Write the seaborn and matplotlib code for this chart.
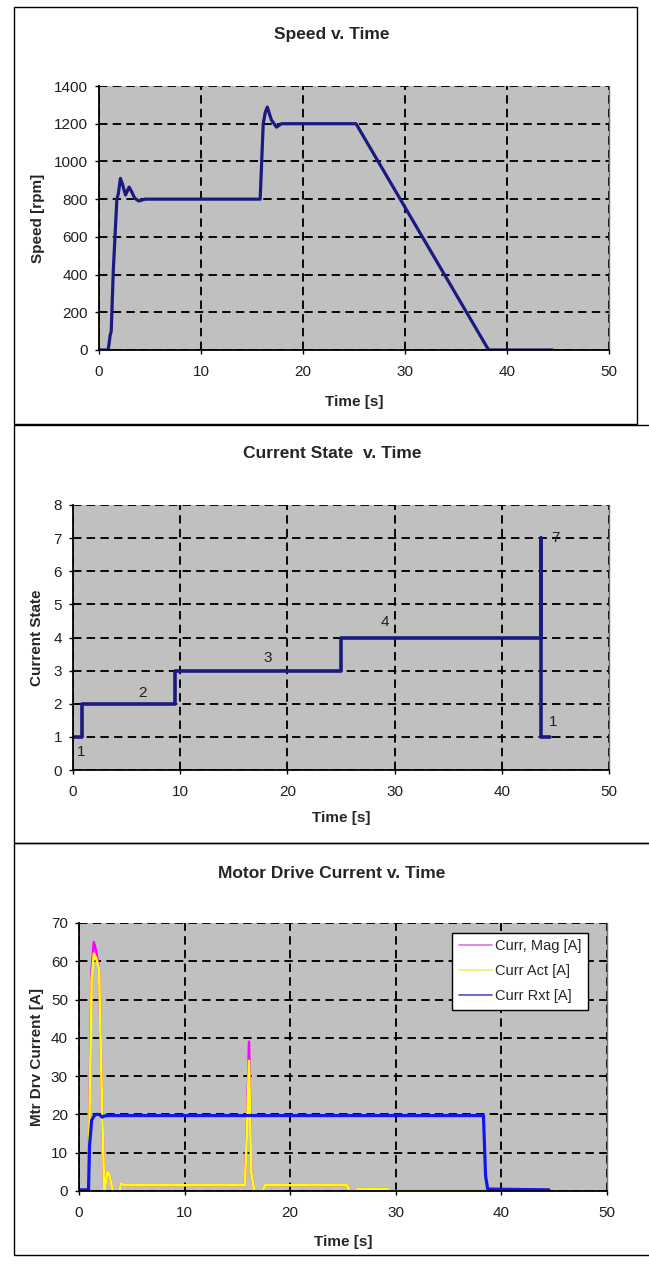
import matplotlib
matplotlib.use("Agg")
import matplotlib.pyplot as plt
import seaborn as sns
import pandas as pd
from matplotlib.patches import Rectangle
from matplotlib.lines import Line2D

# ---- values ----
speed_time = [0, 0.9, 1.1, 1.2, 1.4, 1.75, 1.9, 2.1, 2.3, 2.6, 2.95, 3.2, 3.5, 3.9, 4.5,
              15.8, 16.1, 16.3, 16.5, 16.9, 17.4, 17.9, 25.2, 38.2, 44.5]
speed_rpm = [0, 0, 80, 100, 420, 800, 830, 910, 880, 822, 864, 840, 805, 790, 800,
             800, 1200, 1260, 1288, 1220, 1182, 1200, 1200, 0, 0]

state_time = [0, 0.8, 0.8, 9.5, 9.5, 25.0, 25.0, 43.7, 43.7, 43.7, 44.5]
state_value = [1, 1, 2, 2, 3, 3, 4, 4, 7, 1, 1]
state_labels = ["1", "2", "3", "4", "7", "1"]
state_label_t = [0.75, 6.5, 18.2, 29.1, 45.0, 44.8]
state_label_y = [0.55, 2.33, 3.38, 4.48, 7.0, 1.45]

cur_time = [0, 0.9, 1.0, 1.2, 1.4, 1.6, 1.9, 2.2, 2.4, 2.7, 2.9, 3.2, 3.8, 4.0, 4.3,
            15.7, 15.9, 16.1, 16.3, 16.6, 17.4, 17.6, 25.4, 25.6, 26.2, 26.4, 29.2, 29.4,
            38.3, 38.5, 38.7, 44.5]
cur_mag = [0, 0, 22, 58, 65, 63, 58, 20, 0, 5, 4, 0, 0, 2, 1.5,
           1.5, 16, 39, 5, 0, 0, 1.5, 1.5, 0, 0, 0.5, 0.5, 0,
           0, 0, 0, 0]
cur_act = [0, 0, 20, 55, 62, 61, 58, 20, 0, 5, 4, 0, 0, 2, 1.5,
           1.5, 15, 34, 5, 0, 0, 1.5, 1.5, 0, 0, 0.5, 0.5, 0,
           0, 0, 0, 0]
cur_rxt = [0.3, 0.3, 12, 18.5, 19.5, 20, 20, 19.3, 19.6, 19.7, 19.7, 19.7, 19.7, 19.7, 19.7,
           19.7, 19.7, 19.7, 19.7, 19.7, 19.7, 19.7, 19.7, 19.7, 19.7, 19.7, 19.7, 19.7,
           19.7, 4, 0.5, 0.3]
cur_series = ["Curr, Mag [A]", "Curr Act [A]", "Curr Rxt [A]"]
cur_colors = ["#ff00ff", "#ffff00", "#1414f0"]

x_ticks = [0, 10, 20, 30, 40, 50]

sns.set_style("white")
plt.rcParams['font.family'] = ['Liberation Sans', 'DejaVu Sans']

W, H = 649, 1264
fig = plt.figure(figsize=(W / 100, H / 100), dpi=100)


def add_axes_px(left, top, right, bottom):
    return fig.add_axes([left / W, 1 - bottom / H, (right - left) / W, (bottom - top) / H])


def style_axes(ax, ylim, yticks, ylabel, ylabel_x, xlabel_y):
    ax.set_facecolor("#c0c0c0")
    ax.set_xlim(0, 50)
    ax.set_ylim(*ylim)
    ax.set_xticks(x_ticks)
    ax.set_yticks(yticks)
    ax.grid(True, color="black", linestyle=(0, (4.5, 2.8)), linewidth=1.35)
    ax.set_axisbelow(True)
    ax.spines["top"].set_visible(False)
    ax.spines["right"].set_color("#707070")
    ax.spines["right"].set_linewidth(1.0)
    for side in ["left", "bottom"]:
        ax.spines[side].set_color("black")
        ax.spines[side].set_linewidth(1.3)
    ax.tick_params(axis="both", direction="out", length=3, width=1, color="black",
                   labelsize=11, labelcolor="#202020", left=True, bottom=True)
    ax.tick_params(axis="x", pad=8)
    ax.tick_params(axis="y", pad=5)
    ax.set_xlabel("Time [s]", fontsize=11, fontweight="bold")
    ax.set_ylabel(ylabel, fontsize=11, fontweight="bold")
    ax.xaxis.set_label_coords(0.5, xlabel_y)
    ax.xaxis.label.set_va("center")
    ax.yaxis.set_label_coords(ylabel_x, 0.5)
    ax.yaxis.label.set_va("center")


# panel frames
fig.add_artist(Rectangle((14 / W, 1 - 424 / H), 623 / W, 417 / H, transform=fig.transFigure,
                         fill=False, ec="black", lw=1))
fig.add_artist(Rectangle((14 / W, 1 - 843 / H), 660 / W, 418 / H, transform=fig.transFigure,
                         fill=False, ec="black", lw=1))
fig.add_artist(Rectangle((14 / W, 1 - 1255 / H), 660 / W, 412 / H, transform=fig.transFigure,
                         fill=False, ec="black", lw=1))

# Speed v. Time
ax1 = add_axes_px(99, 86, 609, 350)
sns.lineplot(x=speed_time, y=speed_rpm, ax=ax1, color="#1a1a80", linewidth=2.3,
             estimator=None, sort=False)
style_axes(ax1, (0, 1400), range(0, 1401, 200), "Speed [rpm]", -0.12, -0.197)
fig.text(332 / W, 1 - 35 / H, "Speed v. Time", ha="center", va="center",
         fontsize=12.5, fontweight="bold")

# Current State v. Time
ax2 = add_axes_px(73, 505, 609, 770)
sns.lineplot(x=state_time, y=state_value, ax=ax2, color="#1a1a80", linewidth=2.6,
             estimator=None, sort=False)
for lab, t, v in zip(state_labels, state_label_t, state_label_y):
    ax2.text(t, v, lab, ha="center", va="center", fontsize=11, color="#202020")
style_axes(ax2, (0, 8), range(0, 9), "Current State", -0.067, -0.181)
fig.text(332 / W, 1 - 453 / H, "Current State  v. Time", ha="center", va="center",
         fontsize=12.5, fontweight="bold")

# Motor Drive Current v. Time
ax3 = add_axes_px(79, 923, 607, 1191)
cur_df = pd.DataFrame({
    "t": cur_time * 3,
    "amps": cur_mag + cur_act + cur_rxt,
    "series": [cur_series[0]] * len(cur_time) + [cur_series[1]] * len(cur_time)
              + [cur_series[2]] * len(cur_time),
})
sns.lineplot(data=cur_df, x="t", y="amps", hue="series", hue_order=cur_series,
             palette=cur_colors, ax=ax3, estimator=None, sort=False, legend=False)
for line, lw in zip(ax3.lines, [1.8, 1.8, 2.3]):
    line.set_linewidth(lw)
style_axes(ax3, (0, 70), range(0, 71, 10), "Mtr Drv Current [A]", -0.0795, -0.190)
handles = [Line2D([], [], color=c, lw=1.2) for c in ["#e070e0", "#f0f070", "#5050c0"]]
ax3.legend(handles, cur_series, loc="upper right", bbox_to_anchor=(0.964, 0.963),
           frameon=True, fancybox=False, edgecolor="black", framealpha=1, facecolor="white",
           fontsize=10.5, handlelength=2.3, handletextpad=0.2, labelspacing=0.75,
           borderpad=0.45, borderaxespad=0.0)
fig.text(332 / W, 1 - 873 / H, "Motor Drive Current v. Time", ha="center", va="center",
         fontsize=12.5, fontweight="bold")

fig.savefig("out.png", dpi=100)
